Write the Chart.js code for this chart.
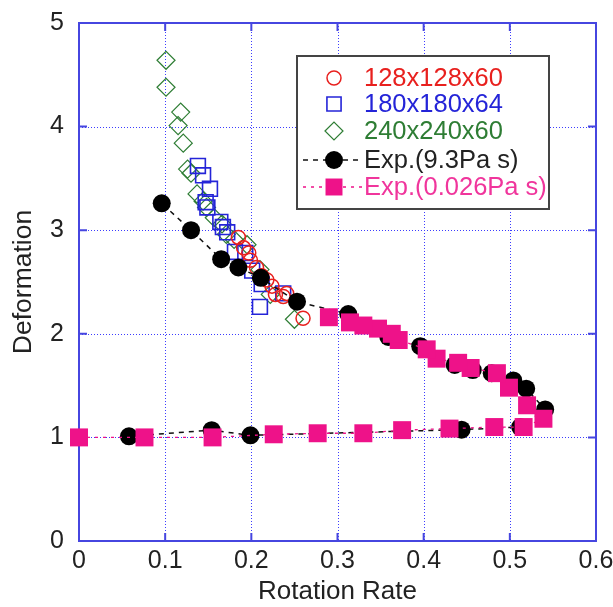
<!DOCTYPE html>
<html>
<head>
<meta charset="utf-8">
<script src="https://cdn.jsdelivr.net/npm/chart.js@4.4.1/dist/chart.umd.min.js"></script>
<style>
  html, body { margin: 0; padding: 0; background: #fff; }
  #wrap { width: 613px; height: 607px; position: relative; }
</style>
</head>
<body>
<div id="wrap"><canvas id="deform"></canvas></div>
<script>
// simulation runs (grid size)
const run128X = [0.185, 0.191, 0.197, 0.199, 0.206, 0.212, 0.218, 0.224, 0.228, 0.237, 0.241, 0.260];
const run128Y = [2.93, 2.83, 2.78, 2.71, 2.64, 2.56, 2.52, 2.46, 2.38, 2.36, 2.39, 2.15];

const run180X = [0.138, 0.144, 0.152, 0.147, 0.149, 0.164, 0.167, 0.172, 0.181, 0.193, 0.201, 0.212, 0.210, 0.237];
const run180Y = [3.62, 3.53, 3.40, 3.27, 3.22, 3.08, 3.03, 2.98, 2.79, 2.78, 2.61, 2.48, 2.26, 2.39];

const run240X = [0.101, 0.101, 0.118, 0.115, 0.121, 0.126, 0.130, 0.137, 0.144, 0.148, 0.157, 0.166, 0.171, 0.180, 0.195, 0.210, 0.222, 0.250];
const run240Y = [4.64, 4.38, 4.14, 4.01, 3.84, 3.59, 3.55, 3.35, 3.28, 3.22, 3.12, 3.06, 2.96, 2.91, 2.86, 2.62, 2.38, 2.14];

// experiments, 9.3 Pa s (up then down)
const expHighX = [0.058, 0.154, 0.199, 0.444, 0.512, 0.541, 0.519, 0.504, 0.479, 0.457, 0.436, 0.396, 0.359, 0.3125, 0.253, 0.211, 0.185, 0.165, 0.130, 0.096];
const expHighY = [1.01, 1.07, 1.02, 1.075, 1.10, 1.27, 1.47, 1.55, 1.62, 1.65, 1.70, 1.88, 1.97, 2.19, 2.31, 2.54, 2.64, 2.72, 3.00, 3.26];

// experiments, 0.026 Pa s
const expLowX = [0.000, 0.076, 0.155, 0.226, 0.277, 0.330, 0.375, 0.430, 0.482, 0.516, 0.539, 0.520, 0.499, 0.485, 0.4545, 0.440, 0.415, 0.4035, 0.371, 0.363, 0.347, 0.330, 0.3145, 0.290];
const expLowY = [1.00, 1.00, 1.00, 1.03, 1.04, 1.04, 1.07, 1.085, 1.10, 1.10, 1.18, 1.31, 1.48, 1.62, 1.67, 1.72, 1.76, 1.85, 1.94, 2.00, 2.05, 2.08, 2.11, 2.16];

const seriesNames = ['128x128x60', '180x180x64', '240x240x60', 'Exp.(9.3Pa s)', 'Exp.(0.026Pa s)'];
const xTicks = [0, 0.1, 0.2, 0.3, 0.4, 0.5, 0.6];
const yTicks = [0, 1, 2, 3, 4, 5];

const pts = (xs, ys) => xs.map((x, i) => ({ x: x, y: ys[i] }));

const RED = '#e8201e', BLUE = '#2424d8', GREEN = '#2e7d34', BLACK = '#000000', PINK = '#ee1289';
const AXIS = '#4646e0';
const FONT = '"Liberation Sans", Arial, sans-serif';

// dotted grid, box frame and inward ticks on all four sides
const framePlugin = {
  id: 'frame',
  beforeDatasetsDraw(chart) {
    const { ctx, chartArea: a, scales } = chart;
    ctx.save();
    ctx.strokeStyle = '#3c3cff';
    ctx.lineWidth = 1;
    ctx.setLineDash([1, 2]);
    ctx.beginPath();
    xTicks.slice(1, -1).forEach(v => {
      const px = Math.round(scales.x.getPixelForValue(v)) + 0.5;
      ctx.moveTo(px, a.top); ctx.lineTo(px, a.bottom);
    });
    yTicks.slice(1, -1).forEach(v => {
      const py = Math.round(scales.y.getPixelForValue(v)) + 0.5;
      ctx.moveTo(a.left, py); ctx.lineTo(a.right, py);
    });
    ctx.stroke();
    ctx.setLineDash([]);

    ctx.strokeStyle = AXIS;
    ctx.lineWidth = 2;
    ctx.strokeRect(a.left, a.top, a.right - a.left, a.bottom - a.top);
    ctx.beginPath();
    xTicks.slice(1, -1).forEach(v => {
      const px = scales.x.getPixelForValue(v);
      ctx.moveTo(px, a.bottom); ctx.lineTo(px, a.bottom - 8);
      ctx.moveTo(px, a.top); ctx.lineTo(px, a.top + 8);
    });
    yTicks.slice(1, -1).forEach(v => {
      const py = scales.y.getPixelForValue(v);
      ctx.moveTo(a.left, py); ctx.lineTo(a.left + 8, py);
      ctx.moveTo(a.right, py); ctx.lineTo(a.right - 8, py);
    });
    ctx.stroke();
    ctx.restore();
  }
};

// legend box in the upper right
const legendPlugin = {
  id: 'boxLegend',
  afterDatasetsDraw(chart) {
    const { ctx } = chart;
    const bx = 297, by = 56, bw = 252, bh = 153;
    ctx.save();
    ctx.fillStyle = '#fff';
    ctx.fillRect(bx, by, bw, bh);
    ctx.strokeStyle = '#444';
    ctx.lineWidth = 2;
    ctx.strokeRect(bx, by, bw, bh);

    const rowY = [78, 104, 131, 160, 187];
    const mx = 334;
    chart.data.datasets.slice().sort((a, b) => a.legendIndex - b.legendIndex).forEach((ds, i) => {
      const y = rowY[i];
      if (ds.showLine) {
        ctx.strokeStyle = ds.borderColor;
        ctx.lineWidth = 1.5;
        ctx.setLineDash(ds.borderDash);
        ctx.beginPath();
        ctx.moveTo(303, y); ctx.lineTo(362, y);
        ctx.stroke();
        ctx.setLineDash([]);
      }
      ctx.fillStyle = ds.pointBackgroundColor;
      ctx.strokeStyle = ds.pointBorderColor;
      ctx.lineWidth = ds.pointBorderWidth;
      Chart.helpers.drawPoint(ctx, {
        pointStyle: ds.pointStyle,
        radius: ds.legendRadius,
        borderWidth: ds.pointBorderWidth
      }, mx, y);
      ctx.fillStyle = ds.textColor;
      ctx.font = '25.5px ' + FONT;
      ctx.textBaseline = 'middle';
      ctx.fillText(ds.label, 364, y + 1);
    });
    ctx.restore();
  }
};

new Chart(document.getElementById('deform'), {
  type: 'scatter',
  data: {
    datasets: [
      {
        label: seriesNames[4], legendIndex: 4, order: 0, textColor: '#f0359c',
        data: pts(expLowX, expLowY), clip: false,
        showLine: true, borderColor: PINK, borderWidth: 1.3, borderDash: [3, 5],
        pointStyle: 'rect', pointRadius: 12.7, legendRadius: 12,
        pointBackgroundColor: PINK, pointBorderColor: PINK, pointBorderWidth: 0
      },
      {
        label: seriesNames[3], legendIndex: 3, order: 1, textColor: '#222',
        data: pts(expHighX, expHighY), clip: false,
        showLine: true, borderColor: '#111', borderWidth: 1.5, borderDash: [5, 5],
        pointStyle: 'circle', pointRadius: 9, legendRadius: 9,
        pointBackgroundColor: BLACK, pointBorderColor: BLACK, pointBorderWidth: 0
      },
      {
        label: seriesNames[0], legendIndex: 0, order: 2, textColor: RED,
        data: pts(run128X, run128Y), clip: false,
        showLine: false,
        pointStyle: 'circle', pointRadius: 7, legendRadius: 7,
        pointBackgroundColor: 'rgba(0,0,0,0)', pointBorderColor: RED, pointBorderWidth: 1.5
      },
      {
        label: seriesNames[1], legendIndex: 1, order: 3, textColor: BLUE,
        data: pts(run180X, run180Y), clip: false,
        showLine: false,
        pointStyle: 'rect', pointRadius: 10.5, legendRadius: 10,
        pointBackgroundColor: 'rgba(0,0,0,0)', pointBorderColor: BLUE, pointBorderWidth: 1.6
      },
      {
        label: seriesNames[2], legendIndex: 2, order: 4, textColor: GREEN,
        data: pts(run240X, run240Y), clip: false,
        showLine: false,
        pointStyle: 'rectRot', pointRadius: 9, legendRadius: 9,
        pointBackgroundColor: 'rgba(0,0,0,0)', pointBorderColor: GREEN, pointBorderWidth: 1.2
      }
    ]
  },
  options: {
    responsive: true,
    maintainAspectRatio: false,
    animation: false,
    layout: { padding: { left: 0, right: 17, top: 23, bottom: 0 } },
    plugins: { legend: { display: false }, tooltip: { enabled: false } },
    scales: {
      x: {
        type: 'linear', min: 0, max: 0.6,
        afterBuildTicks: s => { s.ticks = xTicks.map(v => ({ value: v })); },
        afterFit: s => { s.height = 66; s.paddingLeft = 0; s.paddingRight = 0; },
        grid: { display: false, drawTicks: false },
        border: { display: false },
        ticks: {
          color: '#222', padding: 5,
          font: { family: FONT, size: 25 },
          callback: v => String(Math.round(v * 10) / 10)
        },
        title: {
          display: true, text: 'Rotation Rate', color: '#222',
          font: { family: FONT, size: 26, lineHeight: 1.2 }, padding: { top: 0, bottom: 0 }
        }
      },
      y: {
        type: 'linear', min: 0, max: 5,
        afterBuildTicks: s => { s.ticks = yTicks.map(v => ({ value: v })); },
        afterFit: s => { s.width = 79; s.paddingTop = 0; s.paddingBottom = 0; },
        grid: { display: false, drawTicks: false },
        border: { display: false },
        ticks: {
          color: '#222', padding: 15,
          font: { family: FONT, size: 25 }
        },
        title: {
          display: true, text: 'Deformation', color: '#222',
          font: { family: FONT, size: 26.5, lineHeight: 1.2 }, padding: { top: 8, bottom: 0 }
        }
      }
    }
  },
  plugins: [framePlugin, legendPlugin]
});
</script>
</body>
</html>
